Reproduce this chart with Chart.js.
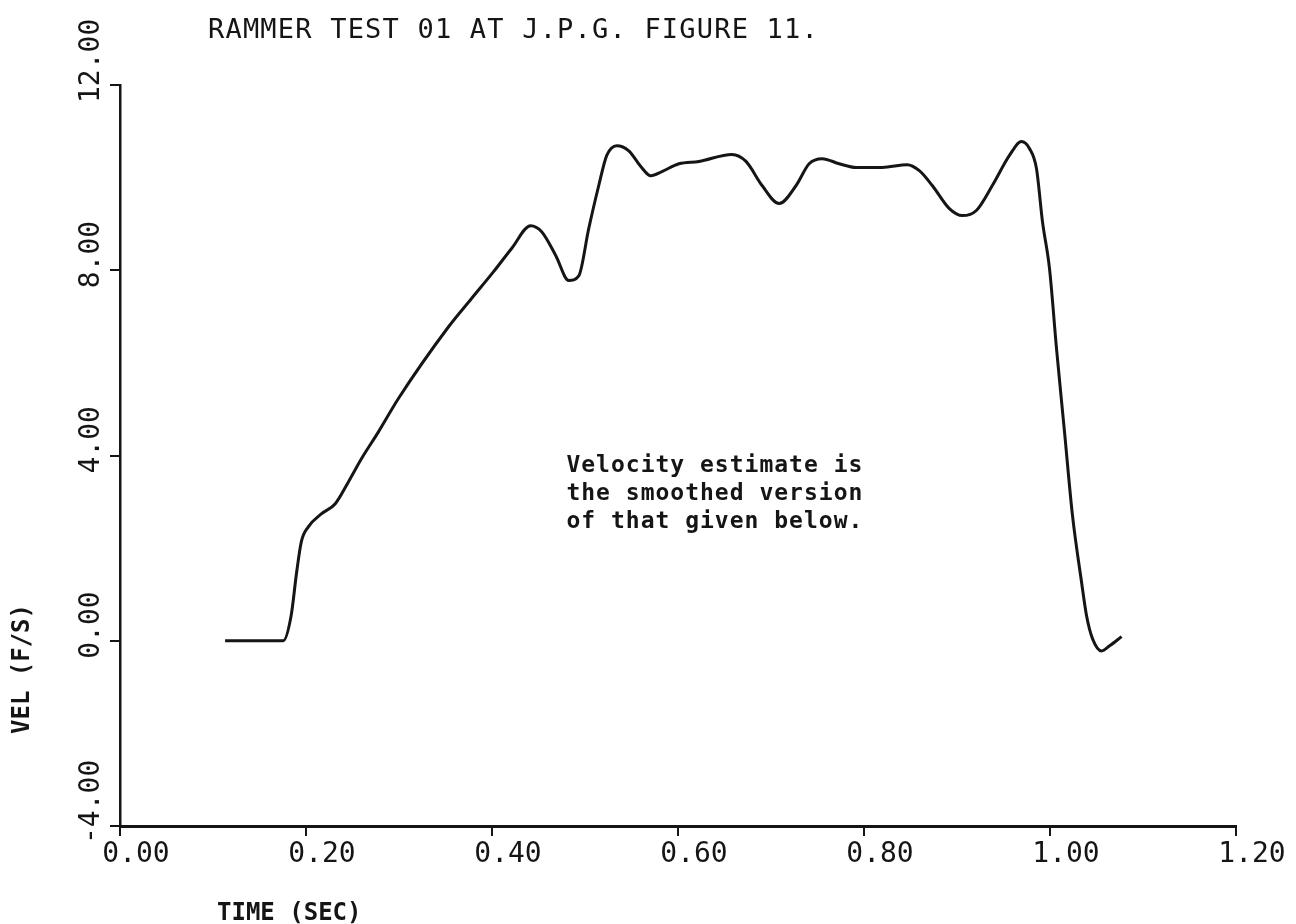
<!DOCTYPE html>
<html>
<head>
<meta charset="utf-8">
<title>Rammer test 01 - velocity</title>
<script src="https://cdn.jsdelivr.net/npm/chart.js@4.4.1/dist/chart.umd.min.js"></script>
<style>
  html, body { margin: 0; padding: 0; background: #fff; }
  #wrap { position: relative; width: 1296px; height: 924px; }
</style>
</head>
<body>
<div id="wrap"><canvas id="velChart"></canvas></div>
<script>
// velocity trace (time in s, velocity in ft/s)
const timeSec = [
  0.113, 0.1755, 0.184, 0.190, 0.195, 0.2025, 0.2165, 0.2315, 0.2456, 0.2596,
  0.2779, 0.2994, 0.3533, 0.378, 0.4017, 0.4211, 0.4416, 0.4534, 0.4685, 0.4825,
  0.4933, 0.504, 0.5148, 0.5234, 0.5342, 0.5471, 0.56, 0.5708, 0.5827, 0.601,
  0.6225, 0.658, 0.6731, 0.6904, 0.7087, 0.727, 0.741, 0.755, 0.7733, 0.7916,
  0.8196, 0.8465, 0.8595, 0.8734, 0.8918, 0.9057, 0.9208, 0.938, 0.9564, 0.9693,
  0.9779, 0.9855, 0.9919, 0.9995, 1.007, 1.0156, 1.0242, 1.0339, 1.0393, 1.0458,
  1.0555, 1.0641, 1.077,
];
const velFps = [
  0, 0, 0.54, 1.49, 2.14, 2.46, 2.74, 2.96, 3.43, 3.93,
  4.51, 5.23, 6.78, 7.39, 7.97, 8.47, 8.96, 8.83, 8.32, 7.78,
  7.88, 8.9, 9.83, 10.48, 10.69, 10.58, 10.24, 10.04, 10.13, 10.3,
  10.35, 10.5, 10.35, 9.83, 9.44, 9.83, 10.3, 10.41, 10.3, 10.22,
  10.22, 10.28, 10.15, 9.83, 9.33, 9.18, 9.29, 9.83, 10.48, 10.78,
  10.63, 10.19, 9.05, 8.03, 6.31, 4.51, 2.70, 1.27, 0.54, 0.04,
  -0.22, -0.11, 0.09,
];

const xTickLabels = ['0.00', '0.20', '0.40', '0.60', '0.80', '1.00', '1.20'];
const yTickLabels = ['-4.00', '0.00', '4.00', '8.00', '12.00'];

const chartTitle = 'RAMMER TEST 01 AT J.P.G. FIGURE 11.';
const xAxisTitle = 'TIME (SEC)';
const yAxisTitle = 'VEL (F/S)';
const noteLines = [
  'Velocity estimate is',
  'the smoothed version',
  'of that given below.',
];
const noteAt = { x: 0.48, y: 3.65 };

const ink = '#151515';
const plotFont = '"DejaVu Sans Mono", monospace';

// free text that the plotter put round the axes
const plotText = {
  id: 'plotText',
  afterDraw(chart) {
    const { ctx, scales } = chart;
    ctx.save();
    ctx.fillStyle = ink;
    ctx.textAlign = 'left';
    ctx.textBaseline = 'alphabetic';

    ctx.font = `27px ${plotFont}`;
    ctx.letterSpacing = '1.2px';
    ctx.fillText(chartTitle, 208, 38);

    ctx.letterSpacing = '0px';
    ctx.font = `bold 24px ${plotFont}`;
    ctx.fillText(xAxisTitle, 217, 920);

    ctx.save();
    ctx.translate(23, 669);
    ctx.rotate(-Math.PI / 2);
    ctx.textAlign = 'center';
    ctx.textBaseline = 'middle';
    ctx.fillText(yAxisTitle, 0, 0);
    ctx.restore();

    ctx.font = `bold 23px ${plotFont}`;
    ctx.letterSpacing = '1px';
    const nx = scales.x.getPixelForValue(noteAt.x);
    const ny = scales.y.getPixelForValue(noteAt.y);
    noteLines.forEach((line, i) => ctx.fillText(line, nx, ny + i * 28));
    ctx.restore();
  },
};

const ctx = document.getElementById('velChart').getContext('2d');
new Chart(ctx, {
  type: 'line',
  data: {
    datasets: [{
      label: 'VEL (F/S)',
      data: timeSec.map((t, i) => ({ x: t, y: velFps[i] })),
      borderColor: ink,
      borderWidth: 3,
      pointRadius: 0,
      fill: false,
      cubicInterpolationMode: 'monotone',
    }],
  },
  options: {
    responsive: true,
    maintainAspectRatio: false,
    animation: false,
    devicePixelRatio: 1,
    layout: { padding: { left: 0, top: 85, right: 60, bottom: 0 } },
    plugins: {
      legend: { display: false },
      tooltip: { enabled: false },
    },
    scales: {
      x: {
        type: 'linear',
        min: 0,
        max: 1.2,
        afterFit: (scale) => { scale.height = 98; },
        border: { display: true, color: ink, width: 3 },
        grid: { drawOnChartArea: false, drawTicks: true, tickLength: 10, color: ink, lineWidth: 2 },
        ticks: {
          stepSize: 0.2,
          autoSkip: false,
          maxRotation: 0,
          labelOffset: 16,
          padding: 2,
          color: ink,
          font: { family: plotFont, size: 28 },
          callback: (value, index) => xTickLabels[index],
        },
      },
      y: {
        type: 'linear',
        min: -4,
        max: 12,
        afterFit: (scale) => { scale.width = 120; },
        border: { display: true, color: ink, width: 2.5 },
        grid: { drawOnChartArea: false, drawTicks: true, tickLength: 10, color: ink, lineWidth: 2 },
        ticks: {
          stepSize: 4,
          autoSkip: false,
          minRotation: 90,
          maxRotation: 90,
          mirror: true,
          crossAlign: 'near',
          padding: -28,
          labelOffset: 18,
          color: ink,
          font: { family: plotFont, size: 28 },
          callback: (value, index) => yTickLabels[index],
        },
      },
    },
  },
  plugins: [plotText],
});
</script>
</body>
</html>
